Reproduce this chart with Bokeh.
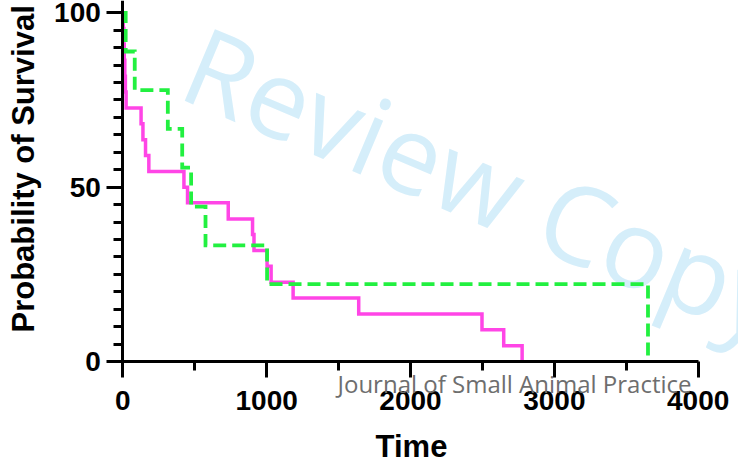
from bokeh.plotting import figure
from bokeh.models import Range1d, FixedTicker, Label, ColumnDataSource
from bokeh.embed import file_html
from bokeh.resources import INLINE

# ---- data ----
magenta_time = [0, 3, 7, 10, 14, 18, 23, 127, 140, 158, 181, 425, 450, 733,
                902, 912, 1003, 1031, 1184, 1640, 2497, 2648, 2776]
magenta_surv = [100, 95.5, 90.9, 86.4, 81.8, 77.3, 72.7, 68.2, 63.6, 59.1, 54.5,
                50.0, 45.5, 40.9, 36.4, 31.8, 27.3, 22.7, 18.2, 13.6, 9.1, 4.5, 0]

green_time = [0, 20, 83, 313, 413, 475, 575, 1003, 3651]
green_surv = [100, 88.9, 77.8, 66.7, 55.6, 44.4, 33.3, 22.2, 0]

x_major = [0, 1000, 2000, 3000, 4000]
x_minor = [500, 1500, 2500, 3500]
y_major = [0, 50, 100]
y_minor = list(range(0, 101, 5))

x_title = "Time"
y_title = "Probability of Survival"
journal = "Journal of Small Animal Practice"
watermark = "Review Copy"

# ---- figure: the frame fills the canvas, axes sit at data 0 ----
X0, X1 = -850.2, 4280.2
Y0, Y1 = -30.11, 103.53
p = figure(width=738, height=466,
           x_range=Range1d(X0, X1), y_range=Range1d(Y0, Y1),
           output_backend="svg", toolbar_location=None,
           min_border_left=0, min_border_right=0,
           min_border_top=0, min_border_bottom=0)
p.outline_line_color = None
p.xgrid.visible = False
p.ygrid.visible = False
p.background_fill_color = "white"
p.border_fill_color = "white"

# watermark under the curves
p.add_layout(Label(x=191, y=409, x_units="screen", y_units="screen",
                   text=watermark, angle=-22.8, angle_units="deg",
                   text_font="Open Sans", text_font_size="109px",
                   text_color="#D5EEFA", text_align="left",
                   text_baseline="alphabetic", level="underlay"))

msrc = ColumnDataSource(dict(t=magenta_time, s=magenta_surv))
gsrc = ColumnDataSource(dict(t=green_time, s=green_surv))
p.step("t", "s", source=msrc, mode="after", line_color="#FF45E6",
       line_width=3.5, line_join="miter")
p.step("t", "s", source=gsrc, mode="after", line_color="#22F040",
       line_width=3.8, line_dash="13 6", line_join="miter")

xa, ya = p.xaxis[0], p.yaxis[0]
xa.fixed_location = 0
ya.fixed_location = 0
xa.bounds = (0, 4000)
ya.bounds = (0, Y1)
for ax in (xa, ya):
    ax.axis_line_width = 3
    ax.axis_line_color = "black"
    ax.major_tick_line_width = 3
    ax.minor_tick_line_width = 3
    ax.major_tick_line_color = "black"
    ax.minor_tick_line_color = "black"
    ax.major_tick_out = 16
    ax.major_tick_in = 0
    ax.minor_tick_out = 9
    ax.minor_tick_in = 0
    ax.major_label_text_font = "Liberation Sans"
    ax.major_label_text_font_style = "bold"
    ax.major_label_text_font_size = "28px"
    ax.major_label_text_color = "black"

xa.ticker = FixedTicker(ticks=x_major, minor_ticks=x_minor)
ya.ticker = FixedTicker(ticks=y_major, minor_ticks=y_minor)
xa.major_label_standoff = 13
ya.major_label_standoff = 6

# axis titles
p.add_layout(Label(x=411, y=20, x_units="screen", y_units="screen",
                   text=x_title, text_font="Liberation Sans",
                   text_font_style="bold", text_font_size="31px",
                   text_color="black", text_align="center",
                   text_baseline="alphabetic"))
p.add_layout(Label(x=23, y=134, x_units="screen", y_units="screen",
                   text=y_title, angle=90, angle_units="deg",
                   text_font="Liberation Sans", text_font_style="bold",
                   text_font_size="31px", text_color="black",
                   text_align="left", text_baseline="alphabetic"))

# journal credit
p.add_layout(Label(x=337, y=83, x_units="screen", y_units="screen",
                   text=journal, text_font="Open Sans",
                   text_font_size="24px", text_color="#6E6E6E",
                   text_align="left", text_baseline="alphabetic"))

open("out.html", "w").write(file_html(p, INLINE))
